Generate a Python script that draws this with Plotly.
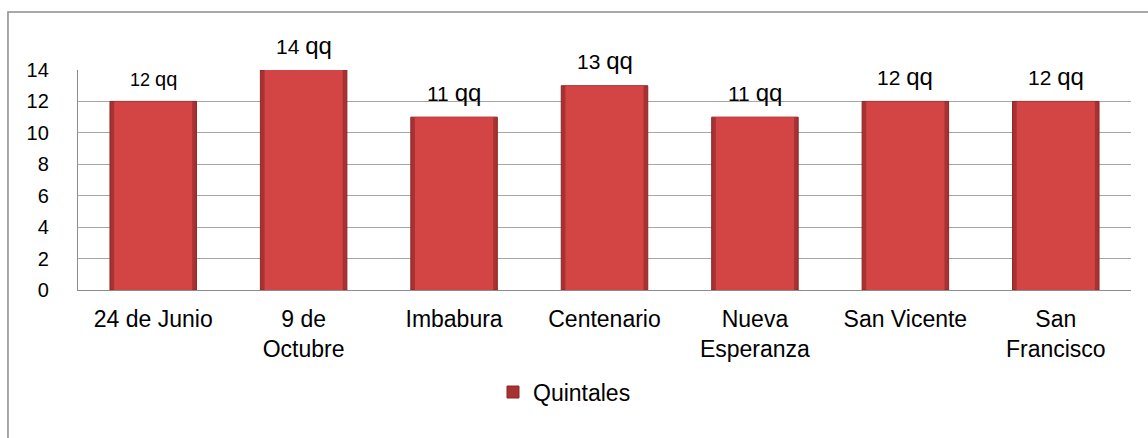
import plotly.graph_objects as go

categories = ["24 de Junio", "9 de<br>Octubre", "Imbabura", "Centenario",
              "Nueva<br>Esperanza", "San Vicente", "San<br>Francisco"]
quintales = [12, 14, 11, 13, 11, 12, 12]
num_sizes = [18, 21, 21, 21, 21, 21, 21]
unit_sizes = [20, 24, 24, 24, 24, 24, 24]
y_ticks = [0, 2, 4, 6, 8, 10, 12, 14]

FONT = "Liberation Sans, Arial"

fig = go.Figure()
fig.add_trace(go.Bar(
    x=categories, y=quintales, name="Quintales",
    width=0.575,
    marker=dict(color="#a83131", line=dict(color="#8e2626", width=1)),
))
fig.add_trace(go.Bar(
    x=categories, y=quintales, showlegend=False, hoverinfo="skip",
    width=0.52,
    marker=dict(color="#d34444", line=dict(width=0)),
))

annotations = []
for i, (c, v) in enumerate(zip(categories, quintales)):
    annotations.append(dict(
        x=c, y=v, xref="x", yref="y",
        text=f"{v} <span style='font-size:{unit_sizes[i]}px'>qq</span>",
        showarrow=False, yanchor="middle", xanchor="center",
        yshift=22 if i == 0 else 25,
        font=dict(size=num_sizes[i], color="#000000", family=FONT),
    ))

fig.update_layout(
    width=1148, height=438,
    margin=dict(l=78, r=17, t=70, b=148),
    plot_bgcolor="white", paper_bgcolor="white",
    barmode="overlay",
    font=dict(family=FONT, color="#000000"),
    showlegend=True,
    legend=dict(x=0.462, y=-0.464, xanchor="center", yanchor="middle",
                font=dict(size=23), orientation="h", itemwidth=30),
    annotations=annotations,
    shapes=[dict(type="rect", xref="paper", yref="paper",
                 x0=-0.0665, x1=1.03, y0=-0.7, y1=1.2636,
                 line=dict(color="#8c8c8c", width=1.5), layer="below")],
)
fig.update_yaxes(range=[0, 14], tickvals=y_ticks, showgrid=True,
                 gridcolor="#a6a6a6", gridwidth=1.3,
                 showline=True, linecolor="#8c8c8c", linewidth=1.3,
                 ticks="outside", ticklen=0, ticklabelstandoff=24,
                 tickfont=dict(size=20), zeroline=False)
fig.update_xaxes(showline=True, linecolor="#8c8c8c", linewidth=1.3,
                 ticks="outside", ticklen=0, ticklabelstandoff=8,
                 tickfont=dict(size=23), tickangle=0)

fig.write_html("out.html", config={"displayModeBar": False},
               post_script="document.body.style.margin='0';document.body.style.overflow='hidden';")
